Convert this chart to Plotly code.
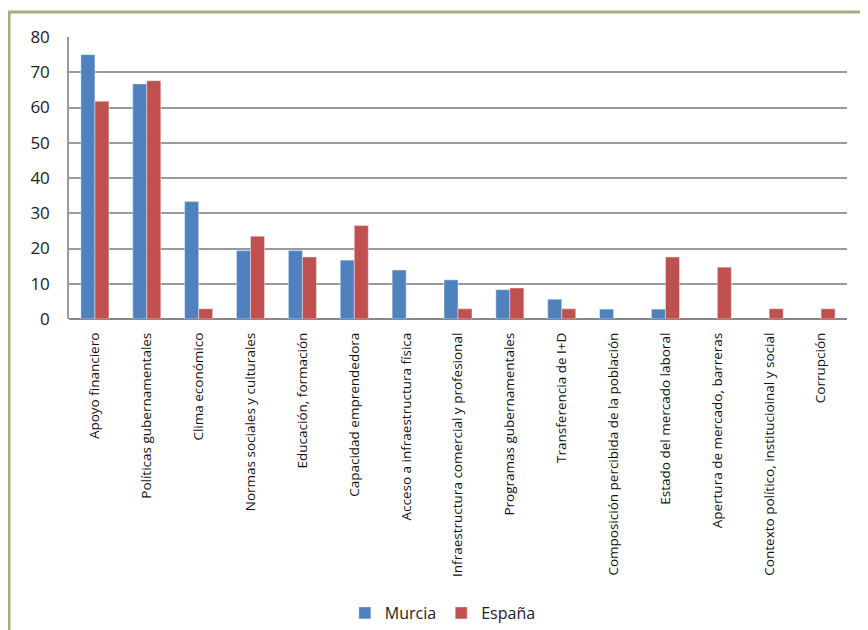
import plotly.graph_objects as go

categories = [
    "Apoyo financiero",
    "Políticas gubernamentales",
    "Clima económico",
    "Normas sociales y culturales",
    "Educación, formación",
    "Capacidad emprendedora",
    "Acceso a infraestructura física",
    "Infraestructura comercial y profesional",
    "Programas gubernamentales",
    "Transferencia de I+D",
    "Composición percibida de la población",
    "Estado del mercado laboral",
    "Apertura de mercado, barreras",
    "Contexto político, institucioinal y social",
    "Corrupción",
]

murcia = [75.0, 66.7, 33.3, 19.4, 19.4, 16.7, 13.9, 11.1, 8.3, 5.6, 2.8, 2.8, None, None, None]
espana = [61.8, 67.6, 2.9, 23.5, 17.6, 26.5, None, 2.9, 8.8, 2.9, None, 17.6, 14.7, 2.9, 2.9]

y_ticks = [0, 10, 20, 30, 40, 50, 60, 70, 80]

fig = go.Figure()
fig.add_trace(go.Bar(name="Murcia", x=categories, y=murcia, marker_color="#4F81BD"))
fig.add_trace(go.Bar(name="España", x=categories, y=espana, marker_color="#C0504D"))

font_family = "Open Sans, Lato, sans-serif"

fig.update_layout(
    width=868, height=630,
    margin=dict(l=61, r=29, t=29, b=319),
    paper_bgcolor="white", plot_bgcolor="white",
    barmode="group", bargap=0.46, bargroupgap=0,
    font=dict(family=font_family, color="#222222"),
    legend=dict(orientation="h", xref="container", yref="container",
                x=0.501, xanchor="center", y=0.0397, yanchor="middle",
                font=dict(size=16, family=font_family), itemwidth=30),
    showlegend=True,
    shapes=[dict(type="rect", xref="paper", yref="paper",
                 x0=-0.0771, x1=1.08, y0=-1.2, y1=1.0887,
                 line=dict(color="#A8AD7D", width=3), fillcolor="rgba(0,0,0,0)", layer="below")],
)
fig.update_xaxes(
    tickangle=-90, tickfont=dict(size=13.5, family=font_family, color="#111111"),
    showline=False, showgrid=False, ticks="", ticklabelstandoff=10, automargin=False,
)
fig.update_yaxes(
    range=[0, 80], tickvals=y_ticks, tickfont=dict(size=17, family=font_family, color="#222222"),
    showgrid=True, gridcolor="#9A9A9A", gridwidth=1.5,
    zeroline=True, zerolinecolor="#888888", zerolinewidth=1.5,
    showline=True, linecolor="#9A9A9A", linewidth=1.5,
    ticks="", ticklabelstandoff=14, automargin=False,
)

fig.write_html("out.html")
